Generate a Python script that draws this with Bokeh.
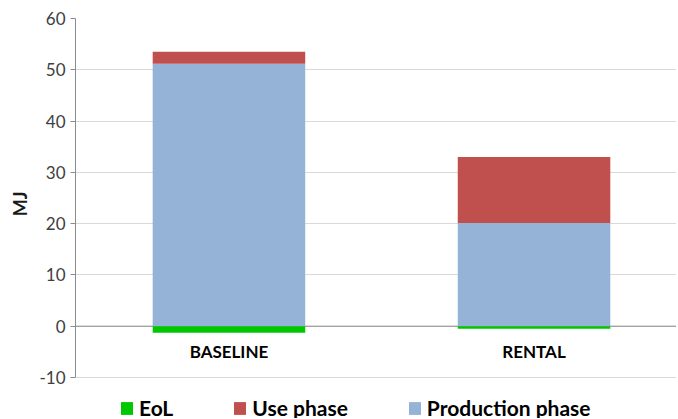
from bokeh.plotting import figure
from bokeh.models import (Range1d, FixedTicker, Span, Legend, LegendItem, ColumnDataSource,
                          PrintfTickFormatter, Title)
from bokeh.core.properties import value
from bokeh.embed import file_html
from bokeh.resources import INLINE

categories = ["BASELINE", "RENTAL"]
production = [51.2, 20.1]
use_phase = [2.3, 12.9]
eol = [-1.3, -0.5]
y_ticks = [-10, 0, 10, 20, 30, 40, 50, 60]

xs = list(range(len(categories)))
src = ColumnDataSource(dict(
    x=xs, cat=categories,
    prod_top=production,
    use_top=[p + u for p, u in zip(production, use_phase)],
    eol=eol,
    zero=[0] * len(categories),
    lab_y=[-5] * len(categories),
))

FONT = "Lato"
p = figure(frame_width=601, frame_height=400, output_backend="svg", toolbar_location=None,
           x_range=Range1d(-0.503, 1.467), y_range=Range1d(-18, 60),
           min_border_left=70, min_border_right=0, min_border_top=18, min_border_bottom=0)
p.outline_line_color = None
p.background_fill_color = "white"
p.border_fill_color = "white"

W = 0.5
r_prod = p.vbar(x="x", bottom="zero", top="prod_top", width=W, source=src,
                fill_color="#95b3d7", line_color=None)
r_use = p.vbar(x="x", bottom="prod_top", top="use_top", width=W, source=src,
               fill_color="#c0504d", line_color=None)
r_eol = p.vbar(x="x", bottom="eol", top="zero", width=W, source=src,
               fill_color="#00c800", line_color=None)

p.add_layout(Span(location=0, dimension="width", line_color="#8c8c8c", line_width=1, level="underlay"))

p.text(x="x", y="lab_y", text="cat", source=src, text_align="center", text_baseline="middle",
       text_font=value(FONT), text_font_style="bold", text_font_size="17px", text_color="#000000")

p.xaxis.visible = False
p.xgrid.visible = False
p.ygrid.grid_line_color = "#d9d9d9"
p.ygrid.ticker = FixedTicker(ticks=y_ticks)

ya = p.yaxis[0]
ya.ticker = FixedTicker(ticks=y_ticks)
ya.bounds = (-10, 60)
ya.formatter = PrintfTickFormatter(format="%d")
ya.axis_line_color = "#8c8c8c"
ya.major_tick_line_color = "#8c8c8c"
ya.major_tick_out = 5
ya.major_tick_in = 0
ya.minor_tick_line_color = None
ya.major_label_text_font = FONT
ya.major_label_text_font_size = "17px"
ya.major_label_text_color = "#404040"
ya.major_label_standoff = 5

p.add_layout(Title(text="MJ", align="right", offset=173, standoff=12,
                   text_font=FONT, text_font_style="bold", text_font_size="18px",
                   text_color="#1a1a1a"), "left")

legend = Legend(items=[
    LegendItem(label="EoL", renderers=[r_eol]),
    LegendItem(label="Use phase", renderers=[r_use]),
    LegendItem(label="Production phase", renderers=[r_prod]),
], location=(44, -2), orientation="horizontal")
legend.border_line_color = None
legend.background_fill_alpha = 0
legend.padding = 0
legend.margin = 0
legend.spacing = 59
legend.glyph_width = 15
legend.glyph_height = 16
legend.label_standoff = 5
legend.label_height = 20
legend.label_text_font = FONT
legend.label_text_font_style = "bold"
legend.label_text_font_size = "21px"
legend.label_text_color = "#000000"
p.add_layout(legend, "center")

open("out.html", "w").write(file_html(p, INLINE))
